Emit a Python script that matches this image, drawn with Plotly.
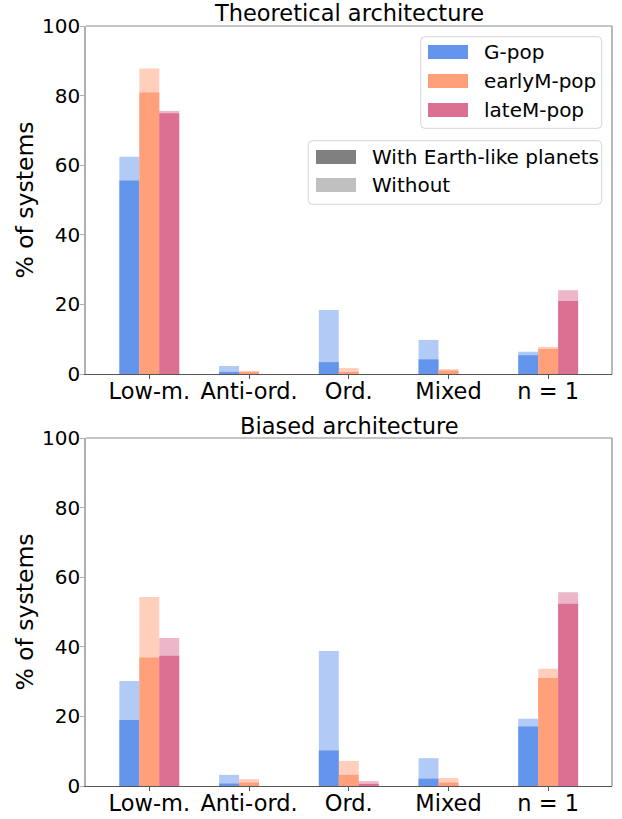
import plotly.graph_objects as go

categories = ["Low-m.", "Anti-ord.", "Ord.", "Mixed", "n = 1"]
pops = ["G-pop", "earlyM-pop", "lateM-pop"]

# Theoretical architecture: with Earth-like planets, and total (with + without)
theo_with = {
    "G-pop": [55.6, 0.6, 3.4, 4.2, 5.4],
    "earlyM-pop": [80.9, 0.5, 0.6, 1.0, 7.2],
    "lateM-pop": [74.9, 0.0, 0.0, 0.0, 21.0],
}
theo_total = {
    "G-pop": [62.4, 2.3, 18.4, 9.8, 6.4],
    "earlyM-pop": [87.8, 0.9, 1.7, 1.4, 7.8],
    "lateM-pop": [75.6, 0.0, 0.0, 0.0, 24.1],
}
# Biased architecture
bias_with = {
    "G-pop": [19.0, 0.7, 10.2, 2.1, 17.1],
    "earlyM-pop": [36.9, 1.0, 3.2, 1.0, 31.0],
    "lateM-pop": [37.4, 0.0, 0.6, 0.0, 52.4],
}
bias_total = {
    "G-pop": [30.2, 3.2, 38.8, 8.0, 19.3],
    "earlyM-pop": [54.3, 2.0, 7.2, 2.3, 33.7],
    "lateM-pop": [42.5, 0.0, 1.4, 0.0, 55.7],
}
shade_labels = ["With Earth-like planets", "Without"]

colors = {"G-pop": "#6495ED", "earlyM-pop": "#FFA07A", "lateM-pop": "#DB7093"}
light = {"G-pop": "rgba(100,149,237,0.5)", "earlyM-pop": "rgba(255,160,122,0.5)",
         "lateM-pop": "rgba(219,112,147,0.5)"}
shade_colors = ["#808080", "#c0c0c0"]
offsets = {"G-pop": -0.3, "earlyM-pop": -0.1, "lateM-pop": 0.1}
xs = list(range(len(categories)))
FONT = "DejaVu Sans"

W, H = 622, 819
ML, MR, MT, MB = 86, 10, 26, 33
PW, PH = W - ML - MR, H - MT - MB


def px(x):
    return (x - ML) / PW


def py(y):
    return (H - MB - y) / PH


fig = go.Figure()
for row, (w, t) in enumerate([(theo_with, theo_total), (bias_with, bias_total)], start=1):
    xa = "x" if row == 1 else "x2"
    ya = "y" if row == 1 else "y2"
    for p in pops:
        fig.add_trace(go.Bar(x=xs, y=t[p], offset=offsets[p], width=0.2, name=p + " (without)",
                             marker=dict(color=light[p], line=dict(width=0)),
                             showlegend=False, xaxis=xa, yaxis=ya))
        fig.add_trace(go.Bar(x=xs, y=w[p], offset=offsets[p], width=0.2, name=p,
                             marker=dict(color=colors[p], line=dict(width=0)),
                             showlegend=False, xaxis=xa, yaxis=ya))

xcommon = dict(range=[-0.635, 4.64], tickmode="array", tickvals=xs, ticktext=categories,
               showline=True, linecolor="#555555", linewidth=1.2, ticks="outside",
               ticklen=4, tickcolor="#555555", showgrid=False, zeroline=False,
               automargin=False, ticklabelstandoff=-7,
               tickfont=dict(family=FONT, size=22.5, color="black"))
ycommon = dict(range=[0, 100], tickmode="array", tickvals=[0, 20, 40, 60, 80, 100],
               showline=True, linecolor="#b0b0b0", linewidth=1.5, ticks="outside",
               ticklen=4, tickcolor="#b0b0b0", showgrid=False, zeroline=False,
               ticklabelstandoff=-4, automargin=False,
               tickfont=dict(family=FONT, size=20, color="black"),
               title=dict(text="% of systems", font=dict(family=FONT, size=23.5, color="black"),
                          standoff=2))

shapes = [
    dict(type="line", xref="x domain", yref="y domain", x0=0, x1=1, y0=1, y1=1,
         line=dict(color="#b0b0b0", width=1.5)),
    dict(type="line", xref="x domain", yref="y domain", x0=1, x1=1, y0=0, y1=1,
         line=dict(color="#a0a0a0", width=1.5)),
    dict(type="line", xref="x2 domain", yref="y2 domain", x0=0, x1=1, y0=1, y1=1,
         line=dict(color="#b0b0b0", width=1.5)),
    dict(type="line", xref="x2 domain", yref="y2 domain", x0=1, x1=1, y0=0, y1=1,
         line=dict(color="#a0a0a0", width=1.5)),
]
annotations = [
    dict(text="Theoretical architecture", x=0.5, y=py(13), xref="paper", yref="paper",
         xanchor="center", yanchor="middle", showarrow=False,
         font=dict(family=FONT, size=22.5, color="black")),
    dict(text="Biased architecture", x=0.5, y=py(426), xref="paper", yref="paper",
         xanchor="center", yanchor="middle", showarrow=False,
         font=dict(family=FONT, size=22.5, color="black")),
]


def rounded_box(x0, y0, x1, y1, r=4):
    # pixel coords -> paper path with rounded corners
    pts = (f"M {px(x0 + r)},{py(y0)} L {px(x1 - r)},{py(y0)} "
           f"Q {px(x1)},{py(y0)} {px(x1)},{py(y0 + r)} L {px(x1)},{py(y1 - r)} "
           f"Q {px(x1)},{py(y1)} {px(x1 - r)},{py(y1)} L {px(x0 + r)},{py(y1)} "
           f"Q {px(x0)},{py(y1)} {px(x0)},{py(y1 - r)} L {px(x0)},{py(y0 + r)} "
           f"Q {px(x0)},{py(y0)} {px(x0 + r)},{py(y0)} Z")
    return dict(type="path", xref="paper", yref="paper", path=pts,
                line=dict(color="#d6d6d6", width=1), fillcolor="rgba(255,255,255,0.8)")


def legend_block(labels, cols, box, sw_x, txt_x, rows_y):
    shapes.append(rounded_box(*box))
    for lab, c, yc in zip(labels, cols, rows_y):
        shapes.append(dict(type="rect", xref="paper", yref="paper",
                           x0=px(sw_x), x1=px(sw_x + 40), y0=py(yc + 7), y1=py(yc - 7),
                           line=dict(width=0), fillcolor=c))
        annotations.append(dict(text=lab, x=px(txt_x), y=py(yc), xref="paper", yref="paper",
                                xanchor="left", yanchor="middle", showarrow=False,
                                font=dict(family=FONT, size=20, color="black")))


legend_block(pops, [colors[p] for p in pops], (420.7, 36.7, 601.7, 128.3),
             428, 482, [52, 81, 110])
legend_block(shade_labels, shade_colors, (308.3, 140.7, 601.7, 204.3),
             316, 370, [157, 185])

fig.update_layout(
    width=W, height=H, barmode="overlay", showlegend=False,
    margin=dict(l=ML, r=MR, t=MT, b=MB),
    plot_bgcolor="white", paper_bgcolor="white",
    xaxis=dict(**xcommon, domain=[0, 1], anchor="y"),
    yaxis=dict(**ycommon, domain=[py(374), 1], anchor="x"),
    xaxis2=dict(**xcommon, domain=[0, 1], anchor="y2"),
    yaxis2=dict(**ycommon, domain=[0, py(438)], anchor="x2"),
    annotations=annotations,
    shapes=shapes,
)

fig.write_html("out.html")
